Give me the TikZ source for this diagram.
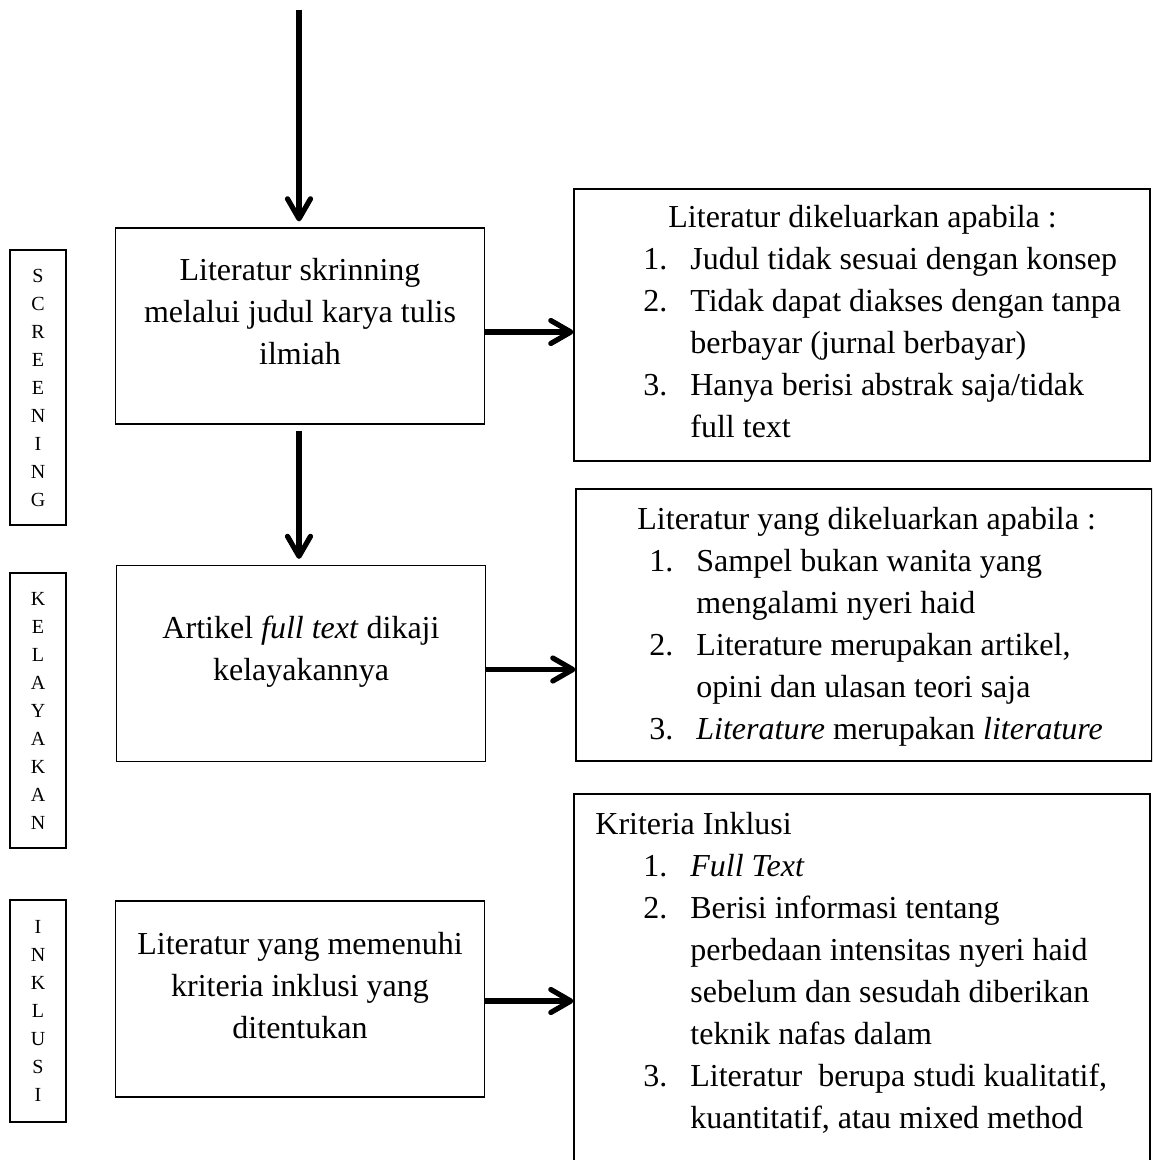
\documentclass[tikz,border=0pt]{standalone}
\usepackage{fontspec}
\setmainfont{Liberation Serif}
\usetikzlibrary{arrows.meta,positioning}

\tikzset{
  frame/.style={draw, line width=0.6pt, rectangle, inner sep=0pt},
  stepbox/.style={frame, minimum width=184.5pt, minimum height=98pt},
  outbox/.style={frame, minimum width=288pt, minimum height=136pt},
  tagbox/.style={frame, minimum width=28pt, align=center, font=\fontsize{10}{14}\selectfont},
  boxtext/.style={inner sep=0pt, align=center, anchor=north, font=\fontsize{16}{21}\selectfont},
  listtext/.style={inner sep=0pt, align=left, anchor=north west, font=\fontsize{16}{21}\selectfont},
  flow/.style={line width=2.6pt, -{Straight Barb[length=10pt,width=11.5pt,round]}}
}
\newcommand{\itm}[2]{\makebox[23.5pt][l]{#1}#2}
\newcommand{\cnt}[1]{\hspace*{23.5pt}#1}

\begin{document}
\begin{tikzpicture}[x=0.5pt,y=-0.5pt]
  \path[use as bounding box, clip] (0,0) rectangle (1152,1160);
  \fill[white] (0,0) rectangle (1152,1160);

  % stage tags
  \node[tagbox, minimum height=137.5pt] (tagS) at (38,387.5) {S\\C\\R\\E\\E\\N\\I\\N\\G};
  \node[tagbox, minimum height=137.5pt] (tagK) at (38,710.5) {K\\E\\L\\A\\Y\\A\\K\\A\\N};
  \node[tagbox, minimum height=111pt] (tagI) at (38,1011) {I\\N\\K\\L\\U\\S\\I};

  % steps
  \node[stepbox] (scr) at (300,326) {};
  \node[stepbox] (kel) at (301,663.5) {};
  \node[stepbox] (ink) at (300,999) {};

  \node[boxtext] (scrT) at (300,258) {Literatur skrinning\\melalui judul karya tulis\\ilmiah};
  \node[boxtext] (kelT) at (301,616) {Artikel \textit{full text} dikaji\\kelayakannya};
  \node[boxtext] (inkT) at (300,932) {Literatur yang memenuhi\\kriteria inklusi yang\\ditentukan};

  % criteria
  \node[outbox] (out1) at (862,325) {};
  \node[outbox] (out2) at (864,625) {};
  \node[frame, minimum width=288pt, minimum height=193pt] (inc) at (862,987) {};

  \node[listtext] (out1T) at (643,205) {\hspace*{12.5pt}Literatur dikeluarkan apabila :\\
    \itm{1.}{Judul tidak sesuai dengan konsep}\\
    \itm{2.}{Tidak dapat diakses dengan tanpa}\\
    \cnt{berbayar (jurnal berbayar)}\\
    \itm{3.}{Hanya berisi abstrak saja/tidak}\\
    \cnt{full text}};
  \node[listtext] (out2T) at (637,507) {Literatur yang dikeluarkan apabila :\\
    \hspace*{6pt}\itm{1.}{Sampel bukan wanita yang}\\
    \hspace*{6pt}\cnt{mengalami nyeri haid}\\
    \hspace*{6pt}\itm{2.}{Literature merupakan artikel,}\\
    \hspace*{6pt}\cnt{opini dan ulasan teori saja}\\
    \hspace*{6pt}\itm{3.}{\textit{Literature} merupakan \textit{literature}}};
  \node[listtext] (incT) at (595,812) {Kriteria Inklusi\\
    \hspace*{24pt}\itm{1.}{\textit{Full Text}}\\
    \hspace*{24pt}\itm{2.}{Berisi informasi tentang}\\
    \hspace*{24pt}\cnt{perbedaan intensitas nyeri haid}\\
    \hspace*{24pt}\cnt{sebelum dan sesudah diberikan}\\
    \hspace*{24pt}\cnt{teknik nafas dalam}\\
    \hspace*{24pt}\itm{3.}{Literatur~ berupa studi kualitatif,}\\
    \hspace*{24pt}\cnt{kuantitatif, atau mixed method}};

  % connectors
  \coordinate (start) at (299,10);
  \draw[flow] (start) -- ([yshift=3pt]start |- scr.north);
  \draw[flow] ([yshift=-3pt]start |- scr.south) -- ([yshift=3pt]start |- kel.north);
  \draw[flow] ([yshift=-3pt]scr.east) -- ([yshift=-3pt]scr.east -| out1.west);
  \draw[flow] ([yshift=-3pt]kel.east) -- ([yshift=-3pt]kel.east -| out2.west);
  \draw[flow] ([yshift=-1pt]ink.east) -- ([yshift=-1pt]ink.east -| inc.west);
\end{tikzpicture}
\end{document}
